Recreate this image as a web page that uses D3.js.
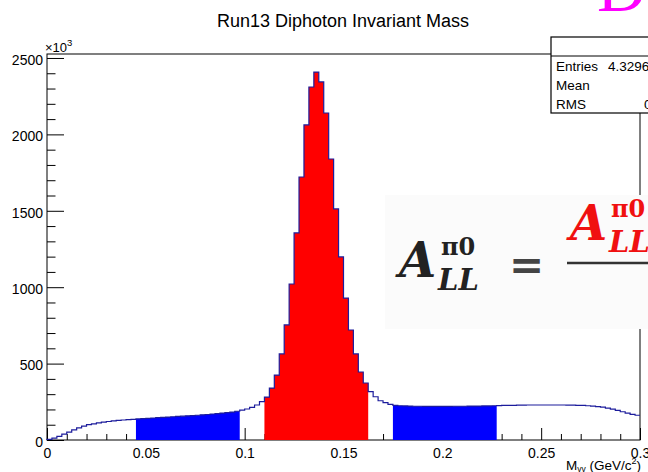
<!DOCTYPE html>
<html>
<head>
<meta charset="utf-8">
<script src="https://cdn.jsdelivr.net/npm/d3@7"></script>
<style>
  body { margin: 0; background: #fff; }
  text { font-family: "Liberation Sans", Arial, sans-serif; }
  .axis path { display: none; }
  .axis line { stroke: #000; }
  .math { font-family: "DejaVu Serif", "Liberation Serif", serif; font-weight: bold; }
</style>
</head>
<body>
<script>
(function(){

    //histogram binning (GeV/c^2)
    var xMin = 0, xMax = 0.3, binWidth = 0.0025;

    //counts per bin, in units of 10^3
    var counts = [
        4, 12, 24, 38, 52, 66, 80, 91, 100, 106,
        112, 117, 121, 125, 128, 131, 133, 135,
        138, 140, 142, 144, 146, 148, 150, 152, 154, 156,
        158, 160, 162, 165, 167, 170, 173, 176, 179, 183, 188,
        196, 203, 214, 229, 251,
        281, 340, 425, 563, 753, 1021, 1355, 1721, 2062, 2310,
        2408, 2343, 2140, 1839, 1512, 1198, 929, 720, 563, 445, 373,
        316, 283, 257, 244, 233,
        226, 224, 223, 222, 221, 221, 220, 220, 220, 220, 220,
        220, 221, 221, 221, 222, 222, 222, 223, 223, 224,
        225, 226, 227, 227, 228, 228, 229, 229, 229, 229,
        229, 229, 229, 229, 228, 228, 227, 226, 224, 222,
        219, 215, 209, 202, 194, 185, 176, 168, 162
    ];

    //mass windows that are filled
    var signalRange = [0.11, 0.1625];
    var sideBands = [[0.045, 0.0975], [0.175, 0.2275]];

    //axis ticks
    var yMajor = [0, 500, 1000, 1500, 2000, 2500];
    var xMajor = [0, 0.05, 0.1, 0.15, 0.2, 0.25, 0.3];
    var xLabels = ["0", "0.05", "0.1", "0.15", "0.2", "0.25", "0.3"];
    var yMax = 2526;

    //stats box rows
    var statNames = ["Entries", "Mean", "RMS"];
    var statValues = ["4.329602e+07", "", "0.06347"];

    var width = 648, height = 472;
    var frame = {left: 47, right: 640, top: 54, bottom: 440};

    var svg = d3.select("body")
        .append("svg")
        .attr("width", width)
        .attr("height", height);

    var x = d3.scaleLinear()
        .domain([xMin, xMax])
        .range([frame.left, frame.right]);

    var y = d3.scaleLinear()
        .domain([0, yMax])
        .range([frame.bottom, frame.top]);

    //bins as objects
    var bins = counts.map(function(c, i){
        return {lo: xMin + i * binWidth, v: c};
    });

    //frame
    svg.append("rect")
        .attr("x", frame.left)
        .attr("y", frame.top)
        .attr("width", frame.right - frame.left)
        .attr("height", frame.bottom - frame.top)
        .attr("fill", "none")
        .attr("stroke", "#000")
        .attr("stroke-width", 1);

    //y axis, ticks pointing inward
    var yMinor = d3.range(0, 2600, 100).filter(function(d){ return d % 500 != 0; });
    svg.append("g")
        .attr("class", "axis")
        .attr("transform", "translate(" + frame.left + ",0)")
        .call(d3.axisLeft(y).tickValues(yMinor).tickSize(-8.5).tickFormat(""));
    var yAxis = svg.append("g")
        .attr("class", "axis")
        .attr("transform", "translate(" + frame.left + ",0)")
        .call(d3.axisLeft(y).tickValues(yMajor).tickSize(-17).tickPadding(4)
            .tickFormat(d3.format("d")));
    yAxis.selectAll("text")
        .attr("font-size", 14)
        .attr("fill", "#000")
        .attr("dy", "0.45em")
        .style("font-family", "'Liberation Sans', Arial, sans-serif");

    //x axis
    var xMinor = d3.range(0, 31).map(function(i){ return i / 100; })
        .filter(function(d, i){ return i % 5 != 0; });
    svg.append("g")
        .attr("class", "axis")
        .attr("transform", "translate(0," + frame.bottom + ")")
        .call(d3.axisBottom(x).tickValues(xMinor).tickSize(-6).tickFormat(""));
    var xAxis = svg.append("g")
        .attr("class", "axis")
        .attr("transform", "translate(0," + frame.bottom + ")")
        .call(d3.axisBottom(x).tickValues(xMajor).tickSize(-12).tickPadding(8)
            .tickFormat(function(d, i){ return xLabels[i]; }));
    xAxis.selectAll("text")
        .attr("font-size", 14)
        .attr("fill", "#000")
        .style("font-family", "'Liberation Sans', Arial, sans-serif");

    //filled windows drawn as step areas
    var area = d3.area()
        .curve(d3.curveStepAfter)
        .x(function(d){ return x(d.lo); })
        .y0(y(0))
        .y1(function(d){ return y(d.v); });

    function windowBins(r){
        var sel = bins.filter(function(b){
            return b.lo >= r[0] - 1e-9 && b.lo < r[1] - 1e-9;
        });
        sel.push({lo: r[1], v: sel[sel.length - 1].v});
        return sel;
    }

    svg.selectAll(".sideband")
        .data(sideBands)
        .enter()
        .append("path")
        .attr("class", "sideband")
        .attr("d", function(r){ return area(windowBins(r)); })
        .attr("fill", "#0000ff");

    svg.append("path")
        .attr("d", area(windowBins(signalRange)))
        .attr("fill", "#ff0000");

    //histogram outline
    var outline = [{lo: xMin, v: 0}].concat(bins, [{lo: xMax, v: counts[counts.length - 1]}]);
    svg.append("path")
        .attr("d", d3.line()
            .curve(d3.curveStepAfter)
            .x(function(d){ return x(d.lo); })
            .y(function(d){ return y(d.v); })(outline))
        .attr("fill", "none")
        .attr("stroke", "#1c1c9c")
        .attr("stroke-width", 1.2);

    //exponent label
    var expo = svg.append("text")
        .attr("x", 45)
        .attr("y", 52)
        .attr("font-size", 13)
        .text("×10");
    expo.append("tspan")
        .attr("font-size", 9.5)
        .attr("dy", -6)
        .text("3");

    //axis title
    var xt = svg.append("text")
        .attr("x", 641)
        .attr("y", 470)
        .attr("text-anchor", "end")
        .attr("font-size", 13.5)
        .text("M");
    xt.append("tspan").attr("font-size", 8.5).attr("dy", 2).text("γγ");
    xt.append("tspan").attr("dy", -2).text(" (GeV/c");
    xt.append("tspan").attr("font-size", 9).attr("dy", -6).text("2");
    xt.append("tspan").attr("dy", 6).text(")");

    //stats box
    svg.append("rect")
        .attr("x", 551)
        .attr("y", 37)
        .attr("width", 120)
        .attr("height", 76)
        .attr("fill", "#fff")
        .attr("stroke", "#000")
        .attr("stroke-width", 1.2);
    svg.append("line")
        .attr("x1", 551).attr("x2", 648)
        .attr("y1", 56).attr("y2", 56)
        .attr("stroke", "#000");
    statNames.forEach(function(s, i){
        svg.append("text")
            .attr("x", 556)
            .attr("y", 71 + i * 19)
            .attr("font-size", 13.5)
            .text(s);
        svg.append("text")
            .attr("x", i == 0 ? 608 : 644)
            .attr("y", 71 + i * 19)
            .attr("font-size", 13.5)
            .text(statValues[i]);
    });

    //pasted formula panel
    svg.append("rect")
        .attr("x", 385)
        .attr("y", 195)
        .attr("width", 263)
        .attr("height", 134)
        .attr("fill", "#fbfbfb");

    svg.append("text")
        .attr("class", "math")
        .attr("x", 399)
        .attr("y", 277)
        .attr("fill", "#222")
        .attr("font-size", 48)
        .attr("font-style", "italic")
        .text("A");
    svg.append("text")
        .attr("class", "math")
        .attr("x", 441).attr("y", 255)
        .attr("fill", "#222")
        .attr("font-size", 24)
        .text("π0");
    svg.append("text")
        .attr("class", "math")
        .attr("x", 438).attr("y", 290)
        .attr("fill", "#222")
        .attr("font-size", 29)
        .attr("font-style", "italic")
        .text("LL");
    svg.append("text")
        .attr("class", "math")
        .attr("x", 509).attr("y", 279)
        .attr("fill", "#444")
        .attr("font-size", 42)
        .text("=");
    svg.append("line")
        .attr("x1", 567).attr("x2", 648)
        .attr("y1", 263).attr("y2", 263)
        .attr("stroke", "#333")
        .attr("stroke-width", 2.5);
    svg.append("text")
        .attr("class", "math")
        .attr("x", 570).attr("y", 240)
        .attr("fill", "#f01010")
        .attr("font-size", 48)
        .attr("font-style", "italic")
        .text("A");
    svg.append("text")
        .attr("class", "math")
        .attr("x", 611).attr("y", 217)
        .attr("fill", "#f01010")
        .attr("font-size", 24)
        .text("π0");
    svg.append("text")
        .attr("class", "math")
        .attr("x", 609).attr("y", 252)
        .attr("fill", "#f01010")
        .attr("font-size", 29)
        .attr("font-style", "italic")
        .text("LL");

    //title
    svg.append("text")
        .attr("x", 343)
        .attr("y", 27)
        .attr("text-anchor", "middle")
        .attr("font-size", 18)
        .text("Run13 Diphoton Invariant Mass");

    //slide heading letter peeking in at the corner
    svg.append("text")
        .attr("x", 597)
        .attr("y", 11)
        .attr("fill", "#ff00ff")
        .attr("font-size", 68)
        .style("font-family", "'Liberation Serif', serif")
        .text("D");

})();
</script>
</body>
</html>
